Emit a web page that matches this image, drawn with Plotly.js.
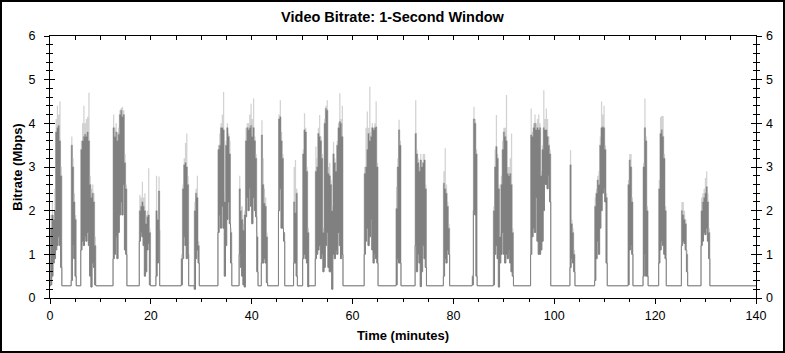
<!DOCTYPE html>
<html>
<head>
<meta charset="utf-8">
<script src="https://cdn.plot.ly/plotly-3.0.1.min.js"></script>
<style>
  html, body { margin: 0; padding: 0; background: #ffffff; }
  #wrap { position: relative; width: 785px; height: 353px; }
  #chart { width: 785px; height: 353px; }
  #frame { position: absolute; left: 0; top: 0; width: 785px; height: 353px; box-sizing: border-box; border: 2px solid #000; pointer-events: none; }
</style>
</head>
<body>
<div id="wrap"><div id="chart"></div><div id="frame"></div></div>
<script>
// ---- data ----
const sampleStepMin = 0.25;      // spacing of the samples listed below, minutes
const baselineMbps = 0.28;       // idle bitrate between bursts
const timeEndMin = 140;

// start time (minutes) of each active burst
const burstStartMin = [0.1, 4.2, 6.1, 12.5, 17.7, 21.0, 26.0, 28.6, 33.3, 37.5, 41.9, 45.3, 48.3, 50.1, 52.6,
  62.3, 68.6, 72.4, 78.0, 83.7, 87.9, 95.3, 103.1, 108.0, 114.6, 117.6, 120.7, 125.2, 129.1];

// upper edge of the dense (dark) band, Mbps
const burstHighMbps = [
  [1.6,1.9,1.8,2.0,3.8,3.9,3.95,3.6,2.8],
  [3.5,3.0,2.2,1.8],
  [3.4,3.6,3.7,3.75,3.7,3.8,3.6,2.6,2.3,2.4,2.2,1.2],
  [3.9,3.7,3.8,3.6,3.75,4.2,4.3,4.15,4.2,3.1,2.5],
  [2.0,2.1,2.2,2.1,2.0,1.7,1.86,1.9,1.5],
  [2.0,1.8,2.45],
  [0.9,2.5,3.05,3.1,3.0,2.6],
  [2.0,2.4,2.3,1.2],
  [3.4,3.5,3.9,3.9,3.85,2.2,3.5,3.9,3.7,3.3,1.5],
  [2.5,2.0,1.8,1.55,1.9,3.6,3.9,3.85,3.9,3.95,3.7,3.9,3.6,3.2,1.4],
  [3.73,2.6,2.17,2.1,1.4],
  [4.1,4.15,3.6,3.2,1.5],
  [2.2,1.95,2.4],
  [3.3,3.85,3.8,2.9,1.5],
  [2.9,3.0,3.77,3.7,3.6,3.2,1.5,4.0,4.34,4.3,2.85,2.8,2.6,2.0,3.3,3.1,2.9,3.5,3.9,4.04,4.0,3.7],
  [2.85,3.0,3.4,3.77,3.6,3.7,3.9,3.85,3.9,3.92,3.0],
  [2.05,3.0,3.85,3.5],
  [3.77,3.3,3.1,2.9,3.16,3.0,3.1,3.16,2.5],
  [2.63,2.5,2.4,2.1,1.6],
  [0.5,4.1,4.0,3.3],
  [2.0,3.0,3.47,3.2,2.5,1.4,2.6,3.4,3.8,3.7,3.6,2.85,2.8,2.85,2.6,1.5],
  [3.73,3.7,3.9,4.0,3.85,3.9,3.85,3.9,2.8,3.4,3.9,3.85,3.85,3.7,3.5,3.3],
  [3.05,1.7,1.5,1.0],
  [2.1,2.4,2.7,2.6,3.5,3.9,3.92,3.9,3.4,2.3],
  [2.6,3.16,3.0,2.2],
  [3.0,3.9,3.6,2.0],
  [2.5,3.77,3.85,3.7,3.2,2.0],
  [2.0,1.9,1.8,1.7,1.0],
  [2.0,2.2,2.3,2.4,2.55,2.2,1.5]
];

// lower edge of the dense (dark) band, Mbps
const burstLowMbps = [
  [0.3,0.5,0.8,0.9,1.1,1.2,1.4,1.2,0.7],
  [0.4,1.2,0.9,0.5],
  [1.1,1.3,1.2,1.4,1.3,1.5,1.2,0.5,0.25,0.8,0.7,0.3],
  [0.9,1.0,1.4,0.9,1.5,1.9,2.2,1.9,2.6,1.1,1.0],
  [1.3,1.5,1.4,1.2,0.5,0.6,1.1,1.25,0.3],
  [0.5,0.8,1.55],
  [0.3,0.9,1.4,1.2,0.9,1.0],
  [0.2,0.9,1.1,0.8],
  [1.5,1.9,1.6,2.1,1.6,0.5,1.2,1.8,2.2,1.7,0.8],
  [1.0,0.7,0.5,0.3,0.25,1.86,2.3,2.0,2.5,2.1,1.7,2.3,2.0,1.86,0.6],
  [0.8,0.8,0.9,0.8,0.35],
  [2.0,2.5,1.6,1.6,1.3],
  [0.8,0.8,0.5],
  [0.9,1.0,0.9,0.8,0.26],
  [0.9,1.0,1.1,1.2,0.9,1.0,0.6,0.7,1.2,1.5,0.7,0.6,0.6,0.2,1.0,0.9,1.1,1.0,1.5,1.2,0.9,1.0],
  [1.0,1.3,1.6,1.2,1.4,1.8,1.1,0.8,1.0,0.9,0.8],
  [0.3,0.9,0.8,0.8],
  [1.2,0.6,1.0,0.8,0.26,0.6,1.2,0.9,0.7],
  [0.5,0.9,0.8,1.1,1.0],
  [0.3,2.0,1.9,0.5],
  [0.3,1.0,1.2,0.9,0.25,0.8,1.0,1.5,1.0,0.8,1.0,0.9,1.1,0.8,0.6,0.5],
  [1.0,1.4,1.6,1.5,2.3,1.3,1.0,1.0,1.1,1.3,2.0,2.6,2.6,2.5,2.8,2.2],
  [0.7,0.9,0.8,0.6],
  [0.4,0.9,1.3,1.0,1.6,2.0,2.4,2.5,2.2,0.8],
  [0.3,1.1,1.2,1.0],
  [0.5,1.0,0.5,0.5],
  [0.8,1.1,1.3,1.2,1.0,0.9],
  [1.2,1.3,1.25,1.1,0.6],
  [1.2,1.3,1.5,1.45,1.6,1.3,0.9]
];

// highest single-second spikes (light grey), Mbps
const burstPeakMbps = [
  [1.9,2.2,1.9,2.5,4.1,4.4,4.2,4.5,3.0],
  [3.7,3.2,2.4,1.9],
  [3.6,4.0,4.4,4.0,4.1,4.15,4.7,2.8,2.5,2.6,2.4,1.4],
  [4.2,3.9,4.0,3.8,3.9,4.3,4.35,4.38,4.3,3.3,2.6],
  [2.36,2.3,2.66,2.3,2.4,1.9,2.0,2.97,1.6],
  [2.8,1.9,2.78],
  [1.0,2.6,3.2,3.55,3.77,2.8],
  [2.2,2.5,2.8,1.3],
  [3.5,3.77,4.0,4.2,4.72,2.4,3.6,4.0,3.77,3.6,1.6],
  [2.8,2.1,2.1,1.7,2.0,3.9,4.0,4.0,4.2,4.45,4.1,4.57,3.7,3.3,1.5],
  [4.07,3.2,2.5,2.3,1.5],
  [4.2,4.53,3.8,3.3,1.5],
  [3.0,3.16,2.5],
  [3.4,4.23,3.9,3.0,1.6],
  [3.47,3.2,3.9,4.19,3.7,3.3,1.6,4.1,4.4,4.53,3.0,3.1,2.7,2.1,3.58,3.2,3.0,3.6,4.0,4.69,4.1,4.4],
  [3.0,3.9,4.27,3.9,4.84,3.8,4.0,3.9,4.0,4.5,3.1],
  [2.55,3.2,4.08,3.6],
  [4.53,3.4,3.2,3.0,3.3,3.1,3.3,3.3,2.6],
  [2.9,3.43,2.6,2.2,1.7],
  [0.55,4.38,4.1,3.4],
  [2.1,3.4,4.19,3.3,2.6,1.5,2.8,3.6,3.9,3.9,4.65,3.0,3.0,3.2,3.77,1.6],
  [4.34,3.8,4.0,4.2,4.0,4.1,4.2,4.0,2.9,3.5,4.76,4.1,4.34,4.1,3.7,3.4],
  [3.39,1.8,1.6,1.1],
  [2.3,2.5,2.8,2.9,3.7,4.5,4.2,4.4,3.5,2.4],
  [2.7,3.3,3.3,2.3],
  [3.1,4.57,3.7,2.1],
  [2.7,4.14,4.17,4.17,3.3,2.1],
  [2.2,2.2,2.0,1.8,1.1],
  [2.3,2.4,2.5,2.75,2.9,2.4,1.6]
];

// ---- build the series ----
const tX = [], yLo = [], yHi = [], yPk = [];
function add(t, lo, hi, pk) { tX.push(t); yLo.push(lo); yHi.push(hi); yPk.push(pk); }
add(0, baselineMbps, baselineMbps, baselineMbps);
burstStartMin.forEach((s, b) => {
  const hi = burstHighMbps[b], lo = burstLowMbps[b], pk = burstPeakMbps[b];
  for (let i = 0; i < hi.length; i++) {
    add(+(s + i * sampleStepMin).toFixed(3), lo[i], hi[i], pk[i]);
  }
  add(+(s + hi.length * sampleStepMin).toFixed(3), baselineMbps, baselineMbps, baselineMbps);
});
add(timeEndMin, baselineMbps, baselineMbps, baselineMbps);

const dark = '#808080', light = '#d2d2d2';
const traces = [
  { x: tX, y: yLo, type: 'scatter', mode: 'lines', line: { color: dark, width: 1, shape: 'hv' }, hoverinfo: 'skip', showlegend: false },
  { x: tX, y: yHi, type: 'scatter', mode: 'lines', line: { color: dark, width: 0.5, shape: 'hv' }, fill: 'tonexty', fillcolor: dark, hoverinfo: 'skip', showlegend: false },
  { x: tX, y: yPk, type: 'scatter', mode: 'lines', line: { color: light, width: 0, shape: 'hv' }, fill: 'tonexty', fillcolor: light, hoverinfo: 'skip', showlegend: false },
  // invisible carriers so the mirrored tick axes (right labels, top ticks) are drawn
  { x: [0], y: [baselineMbps], xaxis: 'x', yaxis: 'y2', type: 'scatter', mode: 'markers', marker: { opacity: 0 }, hoverinfo: 'skip', showlegend: false },
  { x: [0], y: [baselineMbps], xaxis: 'x2', yaxis: 'y', type: 'scatter', mode: 'markers', marker: { opacity: 0 }, hoverinfo: 'skip', showlegend: false }
];

const tickFont = { family: 'Liberation Sans, Arial, sans-serif', size: 12.5, color: '#000000' };
const boldFont = { family: 'Liberation Sans, Arial, sans-serif', size: 13, color: '#000000' };

const layout = {
  width: 785, height: 353,
  margin: { l: 50, r: 29, t: 36, b: 55 },
  paper_bgcolor: '#ffffff', plot_bgcolor: '#ffffff',
  showlegend: false,
  title: { text: '<b>Video Bitrate: 1-Second Window</b>', font: { family: 'Liberation Sans, Arial, sans-serif', size: 14.5, color: '#000000' },
           x: 0.5, xref: 'container', xanchor: 'center', y: 1 - 17 / 353, yref: 'container', yanchor: 'middle' },
  xaxis: {
    range: [0, timeEndMin], tick0: 0, dtick: 20, ticks: 'outside', ticklen: 5, tickwidth: 1, tickcolor: '#000',
    minor: { dtick: 5, ticks: 'outside', ticklen: 3, tickwidth: 1, tickcolor: '#000', showgrid: false },
    showline: true, linecolor: '#000', linewidth: 1, mirror: true, showgrid: false, zeroline: false,
    tickfont: tickFont, ticklabelstandoff: 1,
    title: { text: '<b>Time (minutes)</b>', font: boldFont, standoff: 8 }
  },
  xaxis2: {
    overlaying: 'x', side: 'top', anchor: 'y', range: [0, timeEndMin], tick0: 0, dtick: 20, ticks: 'inside', ticklen: 4, tickcolor: '#000',
    minor: { dtick: 5, ticks: 'inside', ticklen: 4, tickcolor: '#000', showgrid: false },
    showticklabels: false, showline: false, showgrid: false, zeroline: false
  },
  yaxis: {
    range: [0, 6], tick0: 0, dtick: 1, ticks: 'outside', ticklen: 5, tickwidth: 1, tickcolor: '#000',
    minor: { dtick: 0.2, ticks: 'outside', ticklen: 3, tickwidth: 1, tickcolor: '#000', showgrid: false },
    showline: true, linecolor: '#000', linewidth: 1, mirror: 'ticks', showgrid: false, zeroline: false,
    tickfont: tickFont, ticklabelstandoff: 6,
    title: { text: '<b>Bitrate (Mbps)</b>', font: boldFont, standoff: 2 }
  },
  yaxis2: {
    overlaying: 'y', side: 'right', anchor: 'x', range: [0, 6], tick0: 0, dtick: 1, ticks: 'inside', ticklen: 5, tickcolor: '#000',
    minor: { dtick: 0.2, ticks: 'inside', ticklen: 3, tickcolor: '#000', showgrid: false },
    mirror: 'ticks', showline: false, showgrid: false, zeroline: false,
    showticklabels: true, tickfont: tickFont, ticklabelstandoff: 9
  }
};

Plotly.newPlot('chart', traces, layout, { staticPlot: true, displayModeBar: false });
</script>
</body>
</html>
